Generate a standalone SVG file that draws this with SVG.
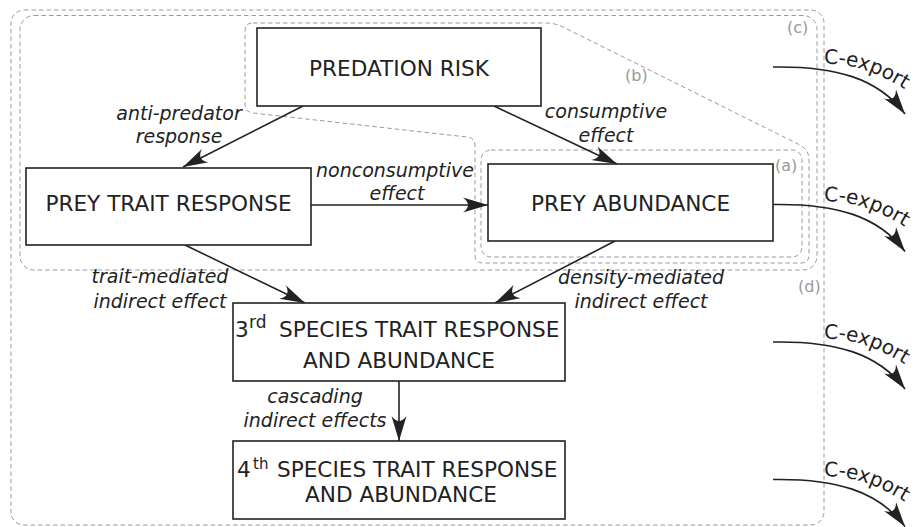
<svg xmlns="http://www.w3.org/2000/svg" width="917" height="527" viewBox="0 0 917 527">
<style>
.box{fill:#fff;stroke:#222;stroke-width:1.6}
.t{font-family:"DejaVu Sans",sans-serif;font-size:21.6px;fill:#222}
.lbl{font-family:"DejaVu Sans",sans-serif;font-size:19px;font-style:italic;fill:#222;text-anchor:middle}
.reg{fill:none;stroke:#9a9a9a;stroke-width:1;stroke-dasharray:4.5,3}
.rl{font-family:"DejaVu Sans",sans-serif;font-size:16px;fill:#999}
.con{fill:none;stroke:#222;stroke-width:1.6;marker-end:url(#ah)}
.cx{font-family:"DejaVu Sans",sans-serif;font-size:20px;fill:#222}
</style>
<defs>
<marker id="ah" markerUnits="userSpaceOnUse" markerWidth="30" markerHeight="20" viewBox="-27 -10 28 20" refX="0" refY="0" orient="auto">
<path d="M0,0 L-25,-7.5 Q-15,0 -25,7.5 Z" fill="#222"/>
</marker>
<path id="cxp" d="M824,64 C848,63 876,70 912,94"/>
</defs>
<rect width="917" height="527" fill="#fff"/>
<g id="regions">
<g id="region-d"><rect class="reg" x="11" y="10" width="813" height="515" rx="13"/><text class="rl" x="798" y="292">(d)</text></g>
<g id="region-c"><rect class="reg" x="20" y="15.5" width="797" height="254.5" rx="14"/><text class="rl" x="787" y="33">(c)</text></g>
<g id="region-b"><path class="reg" d="M253,23 L546,23 Q556,23 565,28 L800,145 Q809,150 809,160 L809,255 Q809,263 801,263 L483,263 Q475,263 475,255 L475,146 Q475,138 467,137 L253,113 Q245,112 245,104 L245,31 Q245,23 253,23 Z"/><text class="rl" x="625" y="81">(b)</text></g>
<g id="region-a"><rect class="reg" x="481" y="150" width="321" height="107" rx="10"/><text class="rl" x="775" y="171">(a)</text></g>
</g>
<g id="connectors">
<path class="con" d="M303,106 L183,167"/>
<path class="con" d="M494,106 L617,164"/>
<path class="con" d="M311,205 L488,205"/>
<path class="con" d="M185,245 L305,303"/>
<path class="con" d="M615,241 L495,303"/>
<path class="con" d="M399,381 L399,441"/>
<text class="lbl"><tspan x="179" y="120">anti-predator</tspan><tspan x="179" y="143">response</tspan></text>
<text class="lbl"><tspan x="606" y="118">consumptive</tspan><tspan x="606" y="142">effect</tspan></text>
<text class="lbl"><tspan x="395" y="177">nonconsumptive</tspan><tspan x="397" y="200">effect</tspan></text>
<text class="lbl"><tspan x="160" y="283">trait-mediated</tspan><tspan x="160" y="308">indirect effect</tspan></text>
<text class="lbl"><tspan x="641" y="284">density-mediated</tspan><tspan x="641" y="308">indirect effect</tspan></text>
<text class="lbl"><tspan x="315" y="403">cascading</tspan><tspan x="315" y="427">indirect effects</tspan></text>
<g id="cexport-1"><path class="con" d="M773,67 C835,66 878,78 905,114"/><text class="cx"><textPath href="#cxp">C-export</textPath></text></g>
<g id="cexport-2" transform="translate(0,137.5)"><path class="con" d="M773,67 C835,66 878,78 905,114"/><text class="cx"><textPath href="#cxp">C-export</textPath></text></g>
<g id="cexport-3" transform="translate(0,275)"><path class="con" d="M773,67 C835,66 878,78 905,114"/><text class="cx"><textPath href="#cxp">C-export</textPath></text></g>
<g id="cexport-4" transform="translate(0,412.5)"><path class="con" d="M773,67 C835,66 878,78 905,114"/><text class="cx"><textPath href="#cxp">C-export</textPath></text></g>
</g>
<g id="predation-risk"><rect class="box" x="257" y="28" width="284" height="78"/><text class="t" x="399" y="76" text-anchor="middle">PREDATION RISK</text></g>
<g id="prey-trait"><rect class="box" x="26" y="168" width="285" height="77"/><text class="t" x="168.5" y="210.5" text-anchor="middle">PREY TRAIT RESPONSE</text></g>
<g id="prey-abundance"><rect class="box" x="488" y="164" width="285" height="77"/><text class="t" x="630.5" y="211" text-anchor="middle">PREY ABUNDANCE</text></g>
<g id="species-3"><rect class="box" x="233" y="303" width="332" height="78"/><text class="t" y="337"><tspan x="235">3</tspan><tspan x="249" y="328" font-size="17">rd</tspan><tspan x="279" y="337">SPECIES TRAIT RESPONSE</tspan></text><text class="t" x="399" y="368" text-anchor="middle">AND ABUNDANCE</text></g>
<g id="species-4"><rect class="box" x="233" y="441" width="332" height="78"/><text class="t" y="477"><tspan x="237">4</tspan><tspan x="253" y="468.5" font-size="15">th</tspan><tspan x="277" y="477">SPECIES TRAIT RESPONSE</tspan></text><text class="t" x="401" y="502" text-anchor="middle">AND ABUNDANCE</text></g>
</svg>
